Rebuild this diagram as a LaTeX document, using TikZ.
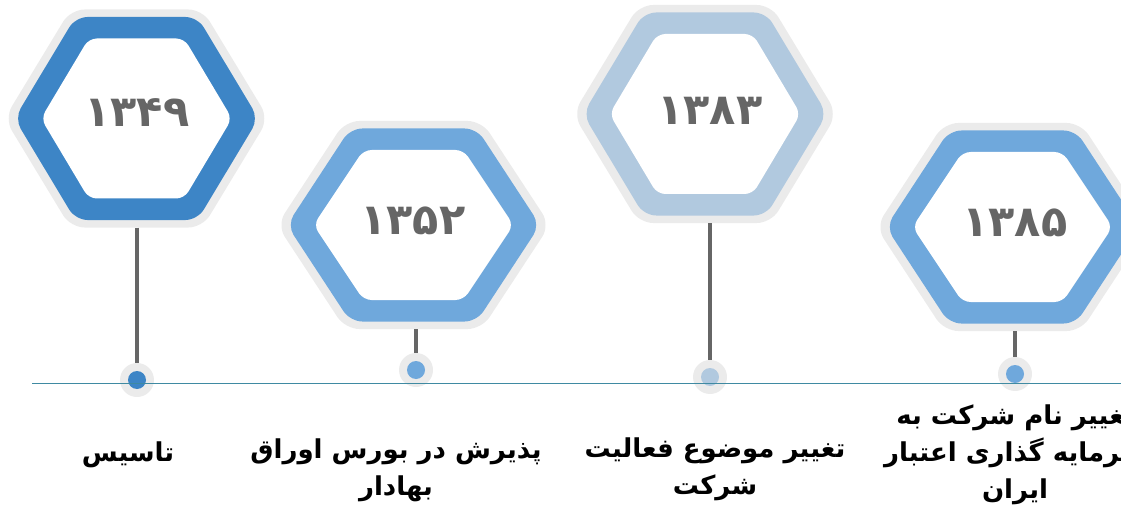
\documentclass[tikz,border=0pt]{standalone}
\usepackage{fontspec}
\usepackage{tikz}
\newfontfamily\arabicfont[Script=Arabic]{DejaVu Sans}
\TeXXeTstate=1
\definecolor{halo}{HTML}{EBEBEB}
\definecolor{blueA}{HTML}{3D85C6}
\definecolor{blueB}{HTML}{6FA8DC}
\definecolor{blueC}{HTML}{B1C9DF}
\definecolor{digit}{HTML}{666666}
\definecolor{axis}{HTML}{3F8AA2}
\newcommand{\hexpath}[2]{({-(#1)},0) -- ({-(#1)/2},{-(#2)}) -- ({(#1)/2},{-(#2)}) -- ({#1},0) -- ({(#1)/2},{#2}) -- ({-(#1)/2},{#2}) -- cycle}

\begin{document}
\begin{tikzpicture}[x=1pt,y=-1pt,
    year/.style={font=\arabicfont\bfseries\fontsize{43}{47}\selectfont,text=digit},
    eventtext/.style={font=\arabicfont\bfseries\fontsize{26}{37}\selectfont,align=center},
    stem/.style={draw=digit,line width=3.3},
    dothalo/.style={circle,fill=halo,minimum size=34,inner sep=0pt}]
    \clip (0,0) rectangle (1121,513);
    \foreach \cx/\cy/\a/\b/\col in {136.5/118.5/122/101.5/blueA,413.5/225/126.5/96.5/blueB,705/114/122/101.5/blueC,1012.5/227/126.5/96.5/blueB}{
      \begin{scope}[shift={(\cx,\cy)}]
        \fill[halo,rounded corners=14] \hexpath{\a+10}{\b+7.5};
        \fill[\col,rounded corners=12] \hexpath{\a}{\b};
        \fill[white,rounded corners=8] \hexpath{\a-26.5}{\b-21.5};
      \end{scope}
    }
    \node[year] (y1) at (137,113) {۱۳۴۹};
    \node[year] (y2) at (413,221) {۱۳۵۲};
    \node[year] (y3) at (710,111) {۱۳۸۳};
    \node[year] (y4) at (1015,223) {۱۳۸۵};
    \coordinate (b1) at (137,227.5);
    \coordinate (b2) at (416,329);
    \coordinate (b3) at (710,223);
    \coordinate (b4) at (1015,331);
    \node[dothalo] (d1) at (137,380) {};
    \node[dothalo] (d2) at (416,370) {};
    \node[dothalo] (d3) at (710,377) {};
    \node[dothalo] (d4) at (1015,374) {};
    \draw[stem] (b1) -- (d1);
    \draw[stem] (b2) -- (d2);
    \draw[stem] (b3) -- (d3);
    \draw[stem] (b4) -- (d4);
    \fill[blueA] (d1) circle (9);
    \fill[blueB] (d2) circle (9);
    \fill[blueC] (d3) circle (9);
    \fill[blueB] (d4) circle (9);
    \coordinate (a0) at (32,383.5);
    \coordinate (a1) at (1121,383.5);
    \draw[axis,line width=1.5] (a0) -- (a1);
    \node[eventtext] (t1) at (128,455) {\beginR تاسیس\endR};
    \node[eventtext] (t2) at (396,470) {\beginR پذیرش در بورس اوراق\endR\\\beginR بهادار\endR};
    \node[eventtext] (t3) at (715,469) {\beginR تغییر موضوع فعالیت\endR\\\beginR شرکت\endR};
    \node[eventtext] (t4) at (1015,455) {\beginR تغییر نام شرکت به\endR\\\beginR سرمایه گذاری اعتبار\endR\\\beginR ایران\endR};
\end{tikzpicture}
\end{document}
